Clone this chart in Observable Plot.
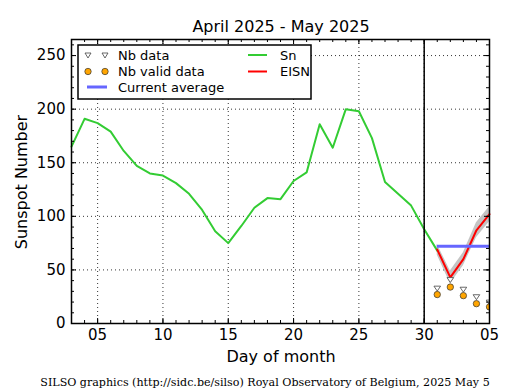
<!DOCTYPE html>
<html><head><meta charset="utf-8">
<script src="https://cdn.jsdelivr.net/npm/d3@7"></script>
<script src="https://cdn.jsdelivr.net/npm/@observablehq/plot@0.6"></script>
<style>body{margin:0;background:#fff;} svg{display:block;}</style>
</head><body><div id="chart"></div>
<script>
// ---- data ----
const snDays   = [3,4,5,6,7,8,9,10,11,12,13,14,15,16,17,18,19,20,21,22,23,24,25,26,27,28,29,30,31];
const snValues = [165,191,187,179,161,147,140,138,131,121,106,86,75,91,108,117,116,133,141,186,164,200,198,173,132,121,110,88,68];
const eisnDays   = [31,32,33,34,35];
const eisnValues = [69,43,60,87,102];
const eisnErr    = [5,6,6,7,7];
const nbData     = [33,41,32,25,20];
const nbValid    = [27,34,26,18.5,15.5];
const currentAverage = 72;
const xTickValues = [5,10,15,20,25,30,35];
const xTickLabels = ["05","10","15","20","25","30","05"];
const yTickValues = [0,50,100,150,200,250];
const monthBoundary = 30;

const sn = snDays.map((d,i)=>({day:d, v:snValues[i]}));
const eisn = eisnDays.map((d,i)=>({day:d, v:eisnValues[i], lo:eisnValues[i]-eisnErr[i], hi:eisnValues[i]+eisnErr[i], nb:nbData[i], nbv:nbValid[i]}));

const W=515, H=390, mL=71, mR=26, mT=39, mB=67;
const fw = W-mL-mR, fh = H-mT-mB;
const xMinor = d3.range(3,36);
const yMinor = d3.range(0,261,10);

const triDown = {draw(ctx, size){ const r=Math.sqrt(size)*0.62; ctx.moveTo(-r,-r*0.6); ctx.lineTo(r,-r*0.6); ctx.lineTo(0,r*0.9); ctx.closePath(); }};

const grid = {stroke:"black", strokeOpacity:1, strokeWidth:0.8, strokeDasharray:"1,3"};
const tk = {stroke:"black", strokeWidth:1};

const chart = Plot.plot({
  width:W, height:H, marginLeft:mL, marginRight:mR, marginTop:mT, marginBottom:mB,
  style:{fontFamily:"DejaVu Sans", background:"white", color:"black", overflow:"visible"},
  x:{domain:[3,35]},
  y:{domain:[0,265]},
  marks:[
    Plot.gridX(xTickValues, grid),
    Plot.gridY(yTickValues, grid),
    Plot.areaY(eisn, {x:"day", y1:"lo", y2:"hi", fill:"#c4c4c4", curve:"linear"}),
    Plot.lineY(sn, {x:"day", y:"v", stroke:"#33cc33", strokeWidth:2}),
    Plot.lineY(eisn, {x:"day", y:"v", stroke:"red", strokeWidth:2}),
    Plot.ruleY([currentAverage], {x1:eisnDays[0], x2:eisnDays[eisnDays.length-1], stroke:"#6666ff", strokeWidth:3}),
    Plot.ruleX([monthBoundary], {stroke:"black", strokeWidth:1.5}),
    Plot.dot(eisn, {x:"day", y:"nb", symbol:triDown, r:3, stroke:"#444", fill:"white", strokeWidth:0.8, clip:true}),
    Plot.dot(eisn, {x:"day", y:"nbv", r:3.2, fill:"orange", stroke:"#333", strokeWidth:0.7, clip:true}),
    // minor + major ticks (inward, all sides)
    Plot.tickX(xMinor, {x:d=>d, insetTop:fh-3, ...tk}),
    Plot.tickX(xMinor, {x:d=>d, insetBottom:fh-3, ...tk}),
    Plot.tickX(xTickValues, {x:d=>d, insetTop:fh-5, ...tk}),
    Plot.tickX(xTickValues, {x:d=>d, insetBottom:fh-5, ...tk}),
    Plot.tickY(yMinor, {y:d=>d, insetRight:fw-3, ...tk}),
    Plot.tickY(yMinor, {y:d=>d, insetLeft:fw-3, ...tk}),
    Plot.tickY(yTickValues, {y:d=>d, insetRight:fw-5, ...tk}),
    Plot.tickY(yTickValues, {y:d=>d, insetLeft:fw-5, ...tk}),
    Plot.frame({stroke:"black", strokeWidth:1.5}),
    Plot.axisX(xTickValues, {tickSize:0, tickPadding:6, fontSize:15, label:null, tickFormat:d=>xTickLabels[xTickValues.indexOf(d)]}),
    Plot.axisY(yTickValues, {tickSize:0, tickPadding:6, fontSize:15, label:null})
  ]
});
document.getElementById("chart").append(chart);

const svg = d3.select(chart);
svg.append("text").attr("x",281).attr("y",32).attr("text-anchor","middle").attr("font-size",16).attr("font-family","DejaVu Sans").attr("fill","black").text("April 2025 - May 2025");
svg.append("text").attr("x",281).attr("y",362).attr("text-anchor","middle").attr("font-size",16).attr("font-family","DejaVu Sans").attr("fill","black").text("Day of month");
svg.append("text").attr("transform","translate(27,182) rotate(-90)").attr("text-anchor","middle").attr("font-size",16).attr("font-family","DejaVu Sans").attr("fill","black").text("Sunspot Number");
svg.append("text").attr("x",265).attr("y",386).attr("text-anchor","middle").attr("font-size",11.1).attr("font-family","DejaVu Serif").attr("fill","black").text("SILSO graphics (http://sidc.be/silso) Royal Observatory of Belgium, 2025 May 5");

// legend
const lg = svg.append("g").attr("font-family","DejaVu Sans").attr("font-size",13).attr("text-anchor","start");
lg.append("rect").attr("x",78).attr("y",45).attr("width",233).attr("height",54).attr("fill","white").attr("stroke","black").attr("stroke-width",1.5);
const rows=[55,71.5,87];
const tri = (cx,cy)=>`M${cx-3},${cy-2}L${cx+3},${cy-2}L${cx},${cy+3}Z`;
[88,105].forEach(cx=>{
  lg.append("path").attr("d",tri(cx,rows[0])).attr("fill","white").attr("stroke","#444").attr("stroke-width",0.8);
  lg.append("circle").attr("cx",cx).attr("cy",rows[1]).attr("r",3.2).attr("fill","orange").attr("stroke","#333").attr("stroke-width",0.7);
});
lg.append("line").attr("x1",87).attr("x2",107).attr("y1",rows[2]).attr("y2",rows[2]).attr("stroke","#6666ff").attr("stroke-width",3);
lg.append("line").attr("x1",248).attr("x2",267).attr("y1",rows[0]).attr("y2",rows[0]).attr("stroke","#33cc33").attr("stroke-width",2);
lg.append("line").attr("x1",248).attr("x2",267).attr("y1",rows[1]).attr("y2",rows[1]).attr("stroke","red").attr("stroke-width",2);
const lt=[["Nb data",118,rows[0]],["Nb valid data",118,rows[1]],["Current average",118,rows[2]],["Sn",280,rows[0]],["EISN",280,rows[1]]];
lt.forEach(([t,x,y])=>lg.append("text").attr("x",x).attr("y",y).attr("dy","0.36em").attr("text-anchor","start").attr("fill","black").text(t));
</script>
</body></html>
